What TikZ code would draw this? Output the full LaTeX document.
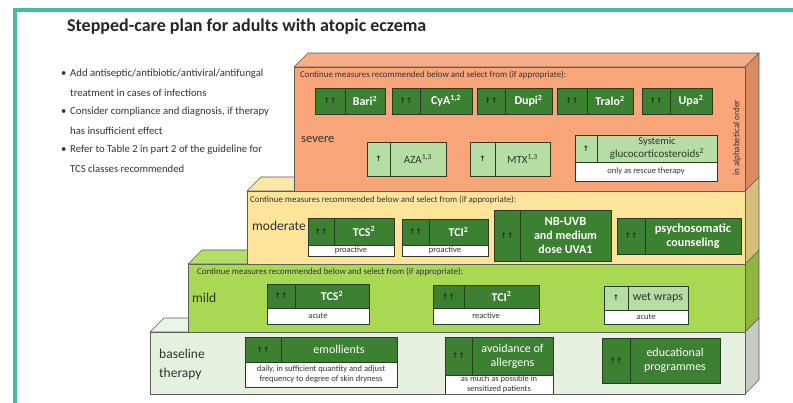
\documentclass[tikz,border=0pt]{standalone}
\usepackage{fontspec}
\setmainfont{Carlito}
\newfontfamily\symf{DejaVu Sans}
\definecolor{teal1}{HTML}{3DBE9C}
\definecolor{blockline}{HTML}{5E5E5E}
\definecolor{boxline}{HTML}{2C3A26}
\definecolor{dkgreen}{HTML}{3C8031}
\definecolor{ltgreen}{HTML}{B5DDA4}
\definecolor{txt}{HTML}{333333}
\definecolor{orF}{HTML}{F9A57A}\definecolor{orT}{HTML}{F7AE88}\definecolor{orS}{HTML}{D98C64}
\definecolor{yeF}{HTML}{FCE49B}\definecolor{yeT}{HTML}{FBE7A6}\definecolor{yeS}{HTML}{D6BF7C}
\definecolor{miF}{HTML}{A9D853}\definecolor{miT}{HTML}{B5DE68}\definecolor{miS}{HTML}{8DB643}
\definecolor{baF}{HTML}{E5F0DE}\definecolor{baT}{HTML}{ECF3E7}\definecolor{baS}{HTML}{C5CBC2}
\tikzset{
  cellbase/.style={draw=boxline, line width=0.7pt, inner sep=0pt, outer sep=0pt, align=center},
  dk/.style={cellbase, fill=dkgreen, text=white, font=\bfseries\fontsize{12}{14}\selectfont},
  dkr/.style={cellbase, fill=dkgreen, text=white, font=\fontsize{12}{14}\selectfont},
  lt/.style={cellbase, fill=ltgreen, text=txt, font=\fontsize{11}{13}\selectfont},
  sub/.style={cellbase, fill=white, text=txt, font=\fontsize{8.5}{10}\selectfont},
  lvl/.style={text=txt, inner sep=0pt, anchor=west, align=left},
  cont/.style={text=txt, inner sep=0pt, anchor=west, font=\fontsize{8.9}{10}\selectfont},
  bul/.style={text=txt, inner sep=0pt, anchor=west, font=\fontsize{10.7}{12}\selectfont},
  blk/.style={draw=blockline, line width=0.6pt, line join=round},
}
% name, x, y, arrow width, label width, height, style, arrows, label
\newcommand\tcell[9]{%
  \node[#7, anchor=north west, minimum width=#4, minimum height=#6] (#1a) at (#2,#3) {\symf\bfseries\fontsize{7.5}{8}\selectfont\color{black!85}#8};
  \node[#7, anchor=north west, minimum width=#5, minimum height=#6] (#1b) at (#1a.north east) {#9};}
% name, anchor node, width, height, text
\newcommand\subcell[5]{%
  \node[sub, anchor=north west, minimum width=#3, minimum height=#4] (#1) at (#2) {#5};}
% L T R B front top side
\newcommand\blockdraw[7]{%
  \filldraw[blk, fill=#6] (#1,#2) -- (#1+14,#2-14) -- (#3+14,#2-14) -- (#3,#2) -- cycle;
  \filldraw[blk, fill=#7] (#3,#2) -- (#3+14,#2-14) -- (#3+14,#4-14) -- (#3,#4) -- cycle;
  \filldraw[blk, fill=#5] (#1,#2) rectangle (#3,#4);}
\begin{document}
\begin{tikzpicture}[x=1pt, y=-1pt]
\useasboundingbox[fill=white] (0,0) rectangle (793,403);
% frame
\draw[teal1, line width=4pt] (15,405) -- (15,10) -- (795,10);
% title
\node[anchor=west, inner sep=0pt, text=black!85, font=\bfseries\fontsize{18}{20}\selectfont] (title) at (67,27) {Stepped-care plan for adults with atopic eczema};
% bullets
\node[bul] (b1d) at (61,74) {•};
\node[bul] (b1) at (70,74) {Add antiseptic/antibiotic/antiviral/antifungal};
\node[bul] (b1b) at (70,93) {treatment in cases of infections};
\node[bul] (b2d) at (61,112) {•};
\node[bul] (b2) at (70,112) {Consider compliance and diagnosis, if therapy};
\node[bul] (b2b) at (70,131) {has insufficient effect};
\node[bul] (b3d) at (61,150) {•};
\node[bul] (b3) at (70,150) {Refer to Table 2 in part 2 of the guideline for};
\node[bul] (b3b) at (70,169) {TCS classes recommended};

% ---------- baseline ----------
\blockdraw{150}{332}{745}{394}{baF}{baT}{baS}
\node[lvl, font=\fontsize{13.5}{19}\selectfont] (baselbl) at (159,364) {baseline\\therapy};
\tcell{emo}{245}{337}{36}{116}{25}{dkr}{↑↑}{emollients}
\subcell{emos}{emoa.south west}{152}{25}{daily, in sufficient quantity and adjust\\frequency to degree of skin dryness}
\tcell{avo}{445}{337}{27}{81}{38}{dkr}{↑↑}{avoidance of\\allergens}
\subcell{avos}{avoa.south west}{108}{19}{\fontsize{8.5}{9.2}\selectfont as much as possible in\\sensitized patients}
\tcell{edu}{602}{338}{28}{90}{45}{dkr}{↑↑}{educational\\programmes}
\draw[blk] (150,394) -- (745,394);

% ---------- mild ----------
\blockdraw{188}{264}{745}{332}{miF}{miT}{miS}
\node[cont] (micont) at (197,272) {Continue measures recommended below and select from (if appropriate):};
\node[lvl, font=\fontsize{13.5}{16}\selectfont] (milbl) at (192,298) {mild};
\tcell{mtcs}{267}{284}{28}{74}{24}{dk}{↑↑}{TCS\textsuperscript{2}}
\subcell{mtcss}{mtcsa.south west}{102}{16}{acute}
\tcell{mtci}{433}{285}{31}{75}{23}{dk}{↑↑}{TCI\textsuperscript{2}}
\subcell{mtcis}{mtcia.south west}{106}{16}{reactive}
\tcell{wet}{604}{286}{24}{60}{24}{lt}{↑}{\fontsize{12}{14}\selectfont wet wraps}
\subcell{wets}{weta.south west}{84}{14}{acute}

% ---------- moderate ----------
\blockdraw{247}{191}{745}{264}{yeF}{yeT}{yeS}
\node[cont] (mocont) at (250,200) {Continue measures recommended below and select from (if appropriate):};
\node[lvl, font=\fontsize{13.5}{16}\selectfont] (molbl) at (252,226) {moderate};
\tcell{otcs}{308}{218}{26}{60}{27}{dk}{↑↑}{TCS\textsuperscript{2}}
\subcell{otcss}{otcsa.south west}{86}{11}{proactive}
\tcell{otci}{402}{219}{27}{59}{26}{dk}{↑↑}{TCI\textsuperscript{2}}
\subcell{otcis}{otcia.south west}{86}{11}{proactive}
\tcell{nbu}{494}{210}{26}{91}{51}{dk}{↑↑}{\fontsize{12.5}{16.5}\selectfont NB-UVB\\and medium\\dose UVA1}
\tcell{psy}{617}{218}{28}{96}{36}{dk}{↑↑}{\fontsize{12.5}{15}\selectfont psychosomatic\\counseling}

% ---------- severe ----------
\blockdraw{294}{67}{745}{191}{orF}{orT}{orS}
\node[cont] (secont) at (300,75) {Continue measures recommended below and select from (if appropriate):};
\node[lvl, font=\fontsize{12.5}{15}\selectfont] (selbl) at (301,140) {severe};
\tcell{bari}{315}{88}{30}{40}{26}{dk}{↑↑}{Bari\textsuperscript{2}}
\tcell{cya}{392}{88}{28}{52}{26}{dk}{↑↑}{CyA\textsuperscript{1,2}}
\tcell{dupi}{477}{88}{28}{47}{26}{dk}{↑↑}{Dupi\textsuperscript{2}}
\tcell{tralo}{557}{88}{30}{46}{26}{dk}{↑↑}{Tralo\textsuperscript{2}}
\tcell{upa}{642}{88}{28}{42}{26}{dk}{↑↑}{Upa\textsuperscript{2}}
\tcell{aza}{367}{142}{23}{56}{34}{lt}{↑}{AZA\textsuperscript{1,3}}
\tcell{mtx}{470}{142}{25}{55}{34}{lt}{↑}{MTX\textsuperscript{1,3}}
\tcell{sgc}{575}{135}{22}{120}{27}{lt}{↑}{\fontsize{10.5}{12.5}\selectfont Systemic\\glucocorticosteroids\textsuperscript{2}}
\subcell{sgcs}{sgca.south west}{142}{19}{only as rescue therapy}
\node[text=txt, inner sep=0pt, rotate=90, font=\fontsize{9}{10}\selectfont] (alpha) at (737,138) {in alphabetical order};
\end{tikzpicture}
\end{document}
